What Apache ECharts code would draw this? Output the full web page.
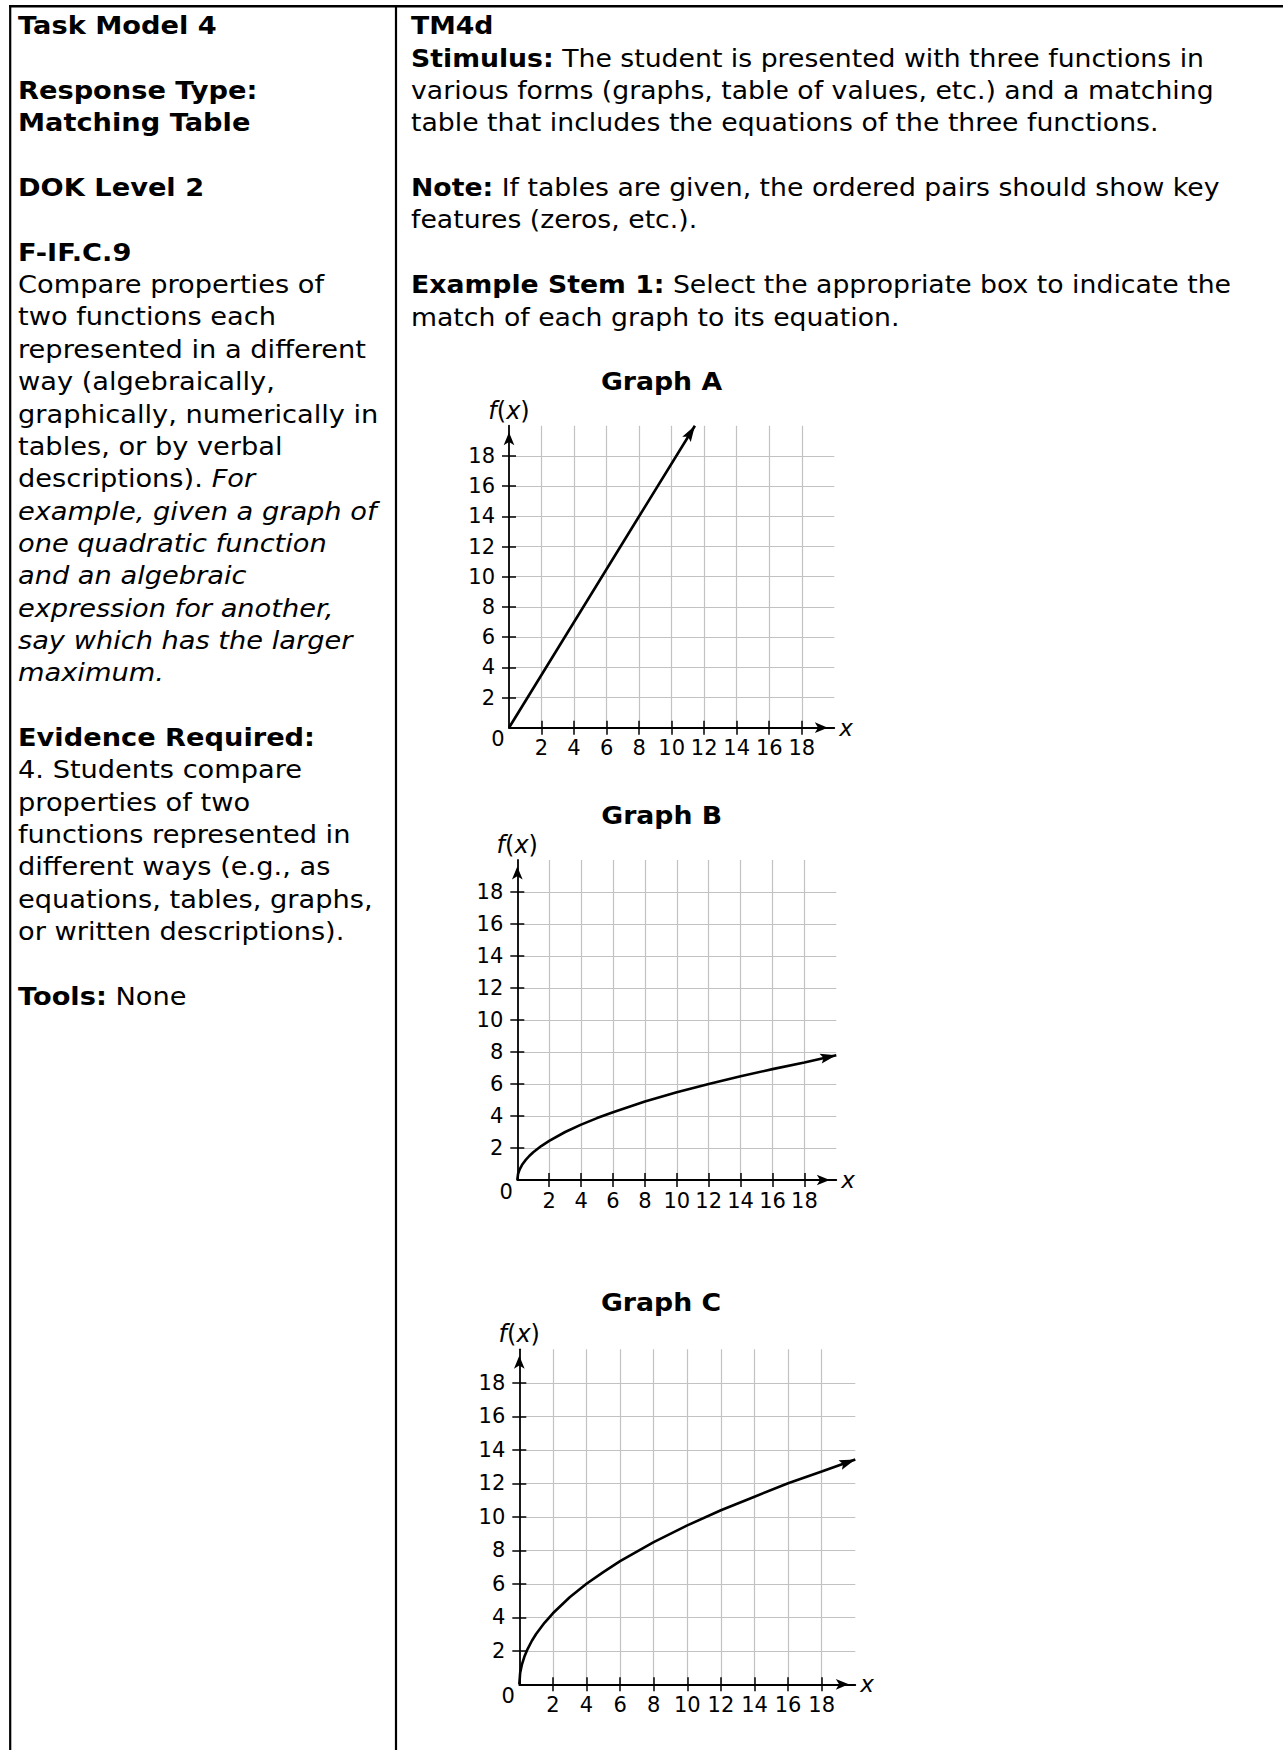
<!DOCTYPE html>
<html>
<head>
<meta charset="utf-8">
<title>TM4d – Graphs A, B, C</title>
<script src="https://cdn.jsdelivr.net/npm/echarts@6/dist/echarts.min.js"></script>
<style>
  html, body { margin: 0; padding: 0; background: #ffffff; }
  #page { width: 1283px; height: 1750px; }
</style>
</head>
<body>
<div id="page"></div>
<script>
// ---- axis values shared by the three graphs ----
const axisMin = 0;
const axisMax = 20;
const axisStep = 2;
const xTickValues = [2, 4, 6, 8, 10, 12, 14, 16, 18];
const yTickValues = [2, 4, 6, 8, 10, 12, 14, 16, 18];
const originLabel = '0';

const graphTitles = ['Graph A', 'Graph B', 'Graph C'];

// ---- Graph A: a line through the origin ----
const graphAx = [0, 4, 8, 11.43];
const graphAy = [0, 7, 14, 20];

// ---- Graph B: slowly rising curve ----
const graphBx = [0, 0.05, 0.15, 0.3, 0.5, 0.75, 1, 1.5, 2, 3, 4, 5, 6, 8, 10, 12, 14, 16, 18, 20];
const graphBy = [0, 0.39, 0.67, 0.95, 1.22, 1.5, 1.73, 2.12, 2.45, 3.0, 3.46, 3.87, 4.24, 4.9, 5.48, 6.0, 6.48, 6.93, 7.35, 7.8];

// ---- Graph C: steeper curve ----
const graphCx = [0, 0.05, 0.15, 0.3, 0.5, 0.75, 1, 1.5, 2, 3, 4, 5, 6, 8, 10, 12, 14, 16, 18, 20];
const graphCy = [0, 0.67, 1.16, 1.64, 2.12, 2.6, 3.0, 3.67, 4.24, 5.2, 6.0, 6.7, 7.35, 8.49, 9.49, 10.39, 11.2, 12.0, 12.7, 13.42];

// ---- text of the two table columns: [line number, rich text] ----
const leftColumnLines = [
  [0, '{b|Task Model 4}'],
  [2, '{b|Response Type:}'],
  [3, '{b|Matching Table}'],
  [5, '{b|DOK Level 2}'],
  [7, '{b|F-IF.C.9}'],
  [8, 'Compare properties of'],
  [9, 'two functions each'],
  [10, 'represented in a different'],
  [11, 'way (algebraically,'],
  [12, 'graphically, numerically in'],
  [13, 'tables, or by verbal'],
  [14, 'descriptions). {i|For}'],
  [15, '{i|example, given a graph of}'],
  [16, '{i|one quadratic function}'],
  [17, '{i|and an algebraic}'],
  [18, '{i|expression for another,}'],
  [19, '{i|say which has the larger}'],
  [20, '{i|maximum.}'],
  [22, '{b|Evidence Required:}'],
  [23, '4. Students compare'],
  [24, 'properties of two'],
  [25, 'functions represented in'],
  [26, 'different ways (e.g., as'],
  [27, 'equations, tables, graphs,'],
  [28, 'or written descriptions).'],
  [30, '{b|Tools:} None']
];
const rightColumnLines = [
  [0, '{b|TM4d}'],
  [1, '{b|Stimulus:} The student is presented with three functions in'],
  [2, 'various forms (graphs, table of values, etc.) and a matching'],
  [3, 'table that includes the equations of the three functions.'],
  [5, '{b|Note:} If tables are given, the ordered pairs should show key'],
  [6, 'features (zeros, etc.).'],
  [8, '{b|Example Stem 1:} Select the appropriate box to indicate the'],
  [9, 'match of each graph to its equation.']
];

// ---- layout ----
const FONT = '"DejaVu Sans", Verdana, sans-serif';
const BODY_SIZE = 25;
const LEFT_STRETCH = 1.09;    // widen DejaVu toward Verdana proportions
const RIGHT_STRETCH = 1.068;
const LINE_TOP = 25.7;
const LINE_STEP = 32.35;
const LEFT_TEXT_X = 18;
const RIGHT_TEXT_X = 411;

const grids = [
  { left: 509, top: 425.7, width: 325.3, height: 302 },
  { left: 517.3, top: 860, width: 319, height: 320 },
  { left: 519.3, top: 1349.3, width: 336, height: 335 }
];
const titleCenters = [[661.5, 381.7], [661.7, 815], [661, 1302.7]];

function richFor(size) {
  return {
    b: { fontWeight: 'bold', fontSize: size, fontFamily: FONT, fill: '#000' },
    i: { fontStyle: 'italic', fontSize: size, fontFamily: FONT, fill: '#000' }
  };
}

function textLine(x, y, text, size, stretch) {
  return {
    type: 'text', x: x, y: y, scaleX: stretch, silent: true,
    style: {
      text: text, fill: '#000', fontSize: size, fontFamily: FONT,
      align: 'left', verticalAlign: 'middle', rich: richFor(size)
    }
  };
}

const graphics = [];
// table rules
graphics.push({ type: 'line', shape: { x1: 9, y1: 6.2, x2: 1283, y2: 6.2 }, style: { stroke: '#000', lineWidth: 2.4 } });
graphics.push({ type: 'line', shape: { x1: 10.2, y1: 5, x2: 10.2, y2: 1750 }, style: { stroke: '#000', lineWidth: 2.2 } });
graphics.push({ type: 'line', shape: { x1: 396, y1: 5, x2: 396, y2: 1750 }, style: { stroke: '#000', lineWidth: 2.2 } });

leftColumnLines.forEach(function (l) {
  graphics.push(textLine(LEFT_TEXT_X, LINE_TOP + l[0] * LINE_STEP, l[1], BODY_SIZE, LEFT_STRETCH));
});
rightColumnLines.forEach(function (l) {
  graphics.push(textLine(RIGHT_TEXT_X, LINE_TOP + l[0] * LINE_STEP, l[1], BODY_SIZE, RIGHT_STRETCH));
});
graphTitles.forEach(function (t, i) {
  graphics.push({
    type: 'text', x: titleCenters[i][0], y: titleCenters[i][1], scaleX: RIGHT_STRETCH, silent: true,
    style: { text: t, fill: '#000', fontSize: 25, fontWeight: 'bold', fontFamily: FONT, align: 'center', verticalAlign: 'middle' }
  });
});

// ---- axes ----
const gridLineColor = '#c2c2c2';
const labelStyle = { color: '#000', fontSize: 21, fontFamily: FONT };

function mainX(i) {
  return {
    type: 'value', gridIndex: i, min: axisMin, max: axisMax, interval: axisStep, position: 'bottom',
    name: 'x', nameLocation: 'end', nameGap: 5,
    nameTextStyle: { color: '#000', fontSize: 23, fontStyle: 'italic', fontFamily: FONT, verticalAlign: 'middle' },
    axisLine: { onZero: false, lineStyle: { color: '#000', width: 1.8 }, symbol: ['none', 'arrow'], symbolSize: [8, 13], symbolOffset: [0, -6.5] },
    axisTick: { show: true, customValues: xTickValues, length: 7, lineStyle: { color: '#000', width: 1.5 } },
    axisLabel: Object.assign({ customValues: xTickValues, margin: 10 }, labelStyle),
    splitLine: { show: true, lineStyle: { color: gridLineColor, width: 1.2 } }
  };
}
function innerX(i) {
  return {
    type: 'value', gridIndex: i, min: axisMin, max: axisMax, interval: axisStep, position: 'bottom',
    axisLine: { show: false, onZero: false },
    axisTick: { show: true, inside: true, customValues: xTickValues, length: 7, lineStyle: { color: '#000', width: 1.5 } },
    axisLabel: { show: false }, splitLine: { show: false }
  };
}
function mainY(i) {
  return {
    type: 'value', gridIndex: i, min: axisMin, max: axisMax, interval: axisStep, position: 'left',
    name: '{i|f}({i|x})', nameLocation: 'end', nameGap: 3,
    nameTextStyle: {
      color: '#000', fontSize: 24, fontFamily: FONT, align: 'center',
      rich: { i: { color: '#000', fontSize: 24, fontFamily: FONT, fontStyle: 'italic' } }
    },
    axisLine: { onZero: false, lineStyle: { color: '#000', width: 1.8 }, symbol: ['none', 'arrow'], symbolSize: [8, 13], symbolOffset: [0, -6.5] },
    axisTick: { show: true, customValues: yTickValues, length: 7, lineStyle: { color: '#000', width: 1.5 } },
    axisLabel: Object.assign({ customValues: yTickValues, margin: 14 }, labelStyle),
    splitLine: { show: true, lineStyle: { color: gridLineColor, width: 1.2 } }
  };
}
function innerY(i) {
  return {
    type: 'value', gridIndex: i, min: axisMin, max: axisMax, interval: axisStep, position: 'left',
    axisLine: { show: false, onZero: false },
    axisTick: { show: true, inside: true, customValues: yTickValues, length: 7, lineStyle: { color: '#000', width: 1.5 } },
    axisLabel: { show: false }, splitLine: { show: false }
  };
}

const xAxes = [], yAxes = [];
grids.forEach(function (g, i) {
  xAxes.push(mainX(i), innerX(i));
  yAxes.push(mainY(i), innerY(i));
});

// ---- series ----
function pairs(xs, ys) { return xs.map(function (x, k) { return [x, ys[k]]; }); }

function curveSeries(i, xs, ys) {
  return {
    type: 'line', xAxisIndex: 2 * i, yAxisIndex: 2 * i, data: pairs(xs, ys),
    showSymbol: false, symbol: 'none', smooth: false, silent: true, animation: false,
    lineStyle: { color: '#000', width: 2.6 }, z: 5
  };
}

// arrowhead pointing along the last segment of a curve, tip on its last point
function arrowSeries(i, xs, ys) {
  const n = xs.length;
  return {
    type: 'custom', xAxisIndex: 2 * i, yAxisIndex: 2 * i, silent: true, animation: false, clip: false, z: 6,
    data: [[xs[n - 2], ys[n - 2], xs[n - 1], ys[n - 1]]],
    renderItem: function (params, api) {
      const from = api.coord([api.value(0), api.value(1)]);
      const tip = api.coord([api.value(2), api.value(3)]);
      const dx = tip[0] - from[0], dy = tip[1] - from[1];
      const len = Math.sqrt(dx * dx + dy * dy);
      const ux = dx / len, uy = dy / len;
      const L = 16, W = 5, notch = 13;
      const bx = tip[0] - ux * L, by = tip[1] - uy * L;
      return {
        type: 'polygon',
        shape: { points: [
          tip,
          [bx - uy * W, by + ux * W],
          [tip[0] - ux * notch, tip[1] - uy * notch],
          [bx + uy * W, by - ux * W]
        ] },
        style: { fill: '#000' }
      };
    }
  };
}

const series = [
  curveSeries(0, graphAx, graphAy), arrowSeries(0, graphAx, graphAy),
  curveSeries(1, graphBx, graphBy), arrowSeries(1, graphBx, graphBy),
  curveSeries(2, graphCx, graphCy), arrowSeries(2, graphCx, graphCy)
];

const chart = echarts.init(document.getElementById('page'), null, { renderer: 'svg', width: 1283, height: 1750 });
chart.setOption({
  backgroundColor: '#ffffff',
  animation: false,
  grid: grids.map(function (g) { return Object.assign({ containLabel: false }, g); }),
  xAxis: xAxes,
  yAxis: yAxes,
  series: series,
  graphic: { elements: graphics }
});

// the "0" at each origin sits below and to the left of the corner
const originTexts = grids.map(function (g, i) {
  const p = chart.convertToPixel({ gridIndex: i }, [axisMin, axisMin]);
  return {
    type: 'text', x: p[0] - 11, y: p[1] + 11.5, silent: true,
    style: { text: originLabel, fill: '#000', fontSize: 21, fontFamily: FONT, align: 'center', verticalAlign: 'middle' }
  };
});
chart.setOption({ graphic: { elements: graphics.concat(originTexts) } });
</script>
</body>
</html>
